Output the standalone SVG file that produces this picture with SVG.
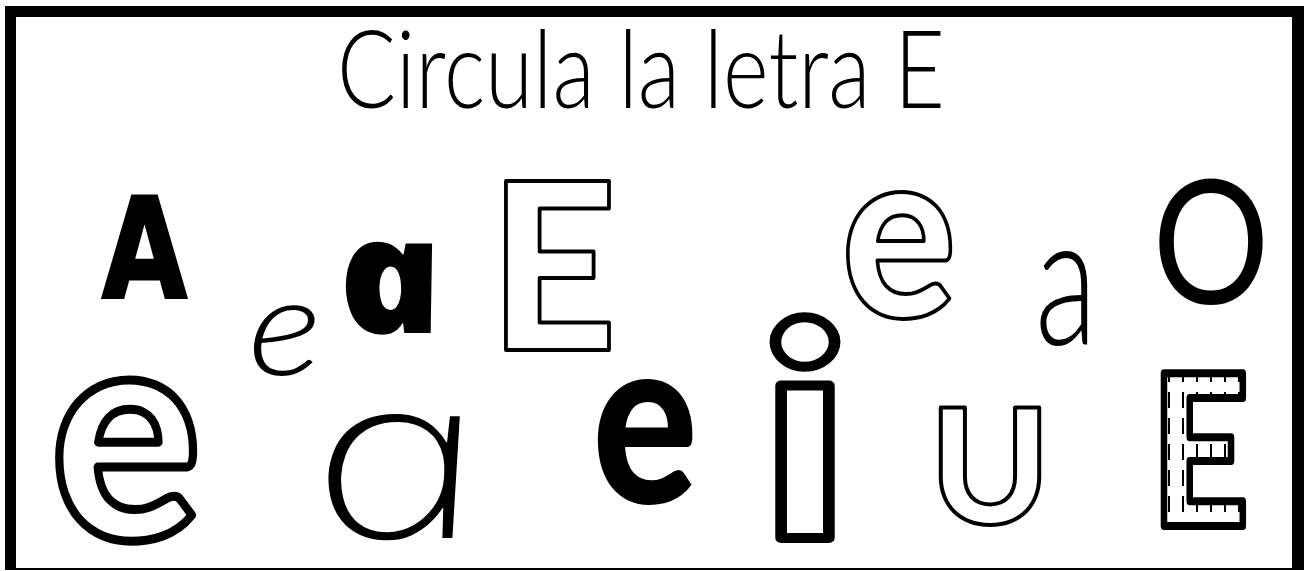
<svg xmlns="http://www.w3.org/2000/svg" width="1304" height="571" viewBox="0 0 1304 571">
<style>
.t{font-family:"Lato","Liberation Sans",sans-serif;}
.blk{font-family:"Lato","DejaVu Sans",sans-serif;font-weight:900;}
.ol{fill:#fff;stroke:#000;stroke-linejoin:round;}
</style>
<defs>
<pattern id="brick" patternUnits="userSpaceOnUse" width="14" height="26">
<rect width="14" height="26" fill="#fff"/>
<line x1="7" y1="2" x2="7" y2="18" stroke="#000" stroke-width="2"/>
</pattern>
</defs>
<rect x="0" y="0" width="1304" height="571" fill="#fff"/>
<g id="frame">
<rect x="5" y="6" width="1299" height="564" fill="#000"/>
<rect x="16" y="17" width="1276" height="551" fill="#fff"/>
</g>
<g id="title">
<text class="t" x="337" y="108" font-size="108" font-weight="300" textLength="608" lengthAdjust="spacingAndGlyphs">Circula la letra E</text>
</g>
<g id="letter-A">
<text x="144.5" y="298" text-anchor="middle" font-family="DejaVu Sans, sans-serif" font-weight="700" font-size="139" stroke="#000" stroke-width="3" textLength="85" lengthAdjust="spacingAndGlyphs">A</text>
</g>
<g id="letter-e-cursive">
<text x="285" y="375" text-anchor="middle" font-family="Lato, sans-serif" font-style="italic" font-weight="300" font-size="138" textLength="74" lengthAdjust="spacingAndGlyphs">e</text>
</g>
<g id="letter-a-bold" transform="translate(400 333) skewX(12)">
<text x="0" y="0" text-anchor="middle" font-family="Noto Sans, sans-serif" font-style="italic" font-weight="900" font-size="162" textLength="106" lengthAdjust="spacingAndGlyphs">a</text>
</g>
<g id="letter-E-outline">
<text class="blk ol" x="553" y="350" text-anchor="middle" font-size="233" stroke-width="4" textLength="128" lengthAdjust="spacingAndGlyphs">E</text>
</g>
<g id="letter-e-big">
<text class="blk ol" x="126" y="539" text-anchor="middle" font-size="304" stroke-width="9" textLength="150" lengthAdjust="spacingAndGlyphs">e</text>
</g>
<g id="letter-a-thin" transform="translate(411 538) skewX(13)">
<text x="0" y="0" text-anchor="middle" font-family="Noto Sans, sans-serif" font-style="italic" font-weight="200" font-size="230" textLength="174" lengthAdjust="spacingAndGlyphs">a</text>
</g>
<g id="letter-e-black">
<text class="blk" x="645" y="503" text-anchor="middle" font-size="236" textLength="106" lengthAdjust="spacingAndGlyphs">e</text>
</g>
<g id="letter-i">
<text class="blk ol" x="805" y="538" text-anchor="middle" font-size="296" stroke-width="10" textLength="90" lengthAdjust="spacingAndGlyphs">i</text>
</g>
<g id="letter-e-outline">
<text class="blk ol" x="899" y="317" text-anchor="middle" font-size="238" stroke-width="4" textLength="115" lengthAdjust="spacingAndGlyphs">e</text>
</g>
<g id="letter-a-small">
<text x="1066" y="345" text-anchor="middle" font-family="Lato, sans-serif" font-weight="300" font-size="183" textLength="62" lengthAdjust="spacingAndGlyphs">a</text>
</g>
<g id="letter-O">
<text x="1211" y="304" text-anchor="middle" font-family="Lato, sans-serif" font-weight="400" font-size="172" textLength="117" lengthAdjust="spacingAndGlyphs">O</text>
</g>
<g id="letter-U">
<text class="blk ol" x="990" y="524" text-anchor="middle" font-size="160" stroke-width="4" textLength="120" lengthAdjust="spacingAndGlyphs">U</text>
</g>
<g id="letter-E-pattern">
<text class="blk" x="1200" y="526" text-anchor="middle" font-size="209" fill="url(#brick)" stroke="#000" stroke-width="8" stroke-linejoin="round" textLength="98" lengthAdjust="spacingAndGlyphs">E</text>
</g>
</svg>
